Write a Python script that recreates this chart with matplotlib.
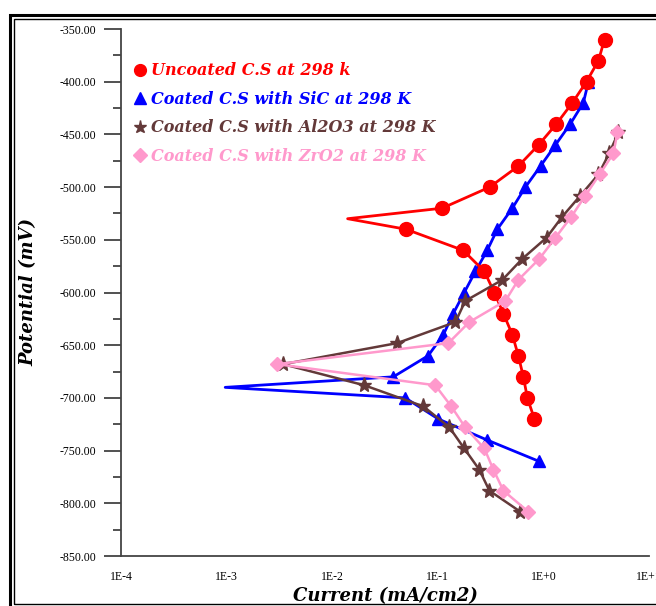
import numpy as np
import matplotlib.pyplot as plt
from matplotlib.lines import Line2D
from matplotlib.patches import Rectangle
from matplotlib.ticker import FixedLocator, MultipleLocator

# ---- data ----
# uncoated carbon steel, spike point at -530 has no marker
v_unc = [-360, -380, -400, -420, -440, -460, -480, -500, -520, -530, -540,
         -560, -580, -600, -620, -640, -660, -680, -700, -720]
i_unc = [3.79, 3.32, 2.56, 1.88, 1.33, 0.90, 0.58, 0.31, 0.110, 0.014, 0.050,
         0.174, 0.276, 0.343, 0.418, 0.508, 0.579, 0.646, 0.705, 0.822]

# SiC coating, spike at -690 has no marker
v_sic = [-400, -420, -440, -460, -480, -500, -520, -540, -560, -580, -600,
         -620, -640, -660, -680, -690, -700, -720, -740, -760]
i_sic = [2.67, 2.39, 1.80, 1.30, 0.94, 0.675, 0.508, 0.366, 0.294, 0.227, 0.178,
         0.140, 0.113, 0.081, 0.0379, 0.00097, 0.0492, 0.101, 0.294, 0.90]

# Al2O3 coating
v_al = [-448, -468, -488, -508, -528, -548, -568, -588, -608, -628, -648,
        -668, -688, -708, -728, -748, -768, -788, -808]
i_al = [5.14, 4.2, 3.32, 2.24, 1.51, 1.07, 0.632, 0.409, 0.182, 0.147, 0.0413,
        0.00343, 0.0201, 0.073, 0.129, 0.178, 0.247, 0.308, 0.605]

# ZrO2 coating
v_zr = [-448, -468, -488, -508, -528, -548, -568, -588, -608, -628, -648,
        -668, -688, -708, -728, -748, -768, -788, -808]
i_zr = [5.02, 4.61, 3.40, 2.50, 1.84, 1.30, 0.916, 0.579, 0.436, 0.199, 0.126,
        0.00301, 0.0946, 0.134, 0.182, 0.276, 0.336, 0.418, 0.721]

labels = ["Uncoated C.S at 298 k", "Coated C.S with SiC at 298 K",
          "Coated C.S with Al2O3 at 298 K", "Coated C.S with ZrO2 at 298 K"]
colors = ["#FF0000", "#0000FF", "#633939", "#FF99CC"]

xtick_vals = [1e-4, 1e-3, 1e-2, 1e-1, 1e0, 1e1]
xtick_labels = ["1E-4", "1E-3", "1E-2", "1E-1", "1E+0", "1E+1"]

fig = plt.figure(figsize=(6.56, 6.06), dpi=100)
ax = fig.add_axes([121/656, 1-556/606, (649-121)/656, (556-29)/606])

# double frame round the figure
fig.patches.append(Rectangle((10/656, 1-612/606), 660/656, 597/606,
                             transform=fig.transFigure, fill=False, lw=2.2, ec="black"))
fig.patches.append(Rectangle((14/656, 1-604/606), 660/656, 585/606,
                             transform=fig.transFigure, fill=False, lw=1.0, ec="black"))

mk_unc = [k for k in range(len(v_unc)) if k != 9]
mk_sic = [k for k in range(len(v_sic)) if k != 15]

ax.plot(i_sic, v_sic, color=colors[1], lw=2.0, marker="^", ms=9,
        markevery=mk_sic, zorder=2)
ax.plot(i_unc, v_unc, color=colors[0], lw=2.0, marker="o", ms=10,
        markevery=mk_unc, zorder=3)
ax.plot(i_al, v_al, color=colors[2], lw=1.8, marker="*", ms=11, zorder=4)
ax.plot(i_zr, v_zr, color=colors[3], lw=1.8, marker="D", ms=7, zorder=5)

ax.set_xscale("log")
ax.set_xlim(1e-4, 1e1)
ax.set_ylim(-850, -350)

ax.set_xticks(xtick_vals, xtick_labels)
ax.xaxis.set_minor_locator(FixedLocator([]))
ax.tick_params(axis="x", length=0, pad=11)

ax.yaxis.set_major_locator(MultipleLocator(50))
ax.yaxis.set_minor_locator(MultipleLocator(25))
ax.yaxis.set_major_formatter(lambda v, p: f"{v:.2f}")
ax.tick_params(axis="y", which="major", length=12, width=1.2, direction="out",
               pad=6, color="#333333")
ax.tick_params(axis="y", which="minor", length=6, width=1.2, direction="out",
               color="#333333")
for t in ax.get_xticklabels() + ax.get_yticklabels():
    t.set_fontfamily("Liberation Serif")
    t.set_fontsize(8.5)

for s in ["top", "right"]:
    ax.spines[s].set_visible(False)
for s in ["left", "bottom"]:
    ax.spines[s].set_color("#444444")
    ax.spines[s].set_linewidth(1.3)

lab_font = dict(family="DejaVu Serif", weight="bold", style="italic", size=13)
ax.set_xlabel("Current (mA/cm2)", labelpad=3, **lab_font)
ax.set_ylabel("Potential (mV)", labelpad=16, **lab_font)

handles = [Line2D([], [], ls="none", marker="o", ms=8.5, color=colors[0]),
           Line2D([], [], ls="none", marker="^", ms=8, color=colors[1]),
           Line2D([], [], ls="none", marker="*", ms=9.5, color=colors[2]),
           Line2D([], [], ls="none", marker="D", ms=7, color=colors[3])]
leg = ax.legend(handles, labels, loc="upper left", bbox_to_anchor=(0.005, 0.958),
                frameon=False, handlelength=0.6, handletextpad=0.4,
                labelspacing=0.72, borderaxespad=0.3,
                prop=dict(family="DejaVu Serif", weight="bold", style="italic", size=11.5))
for txt, c in zip(leg.get_texts(), colors):
    txt.set_color(c)

fig.savefig("out.png", dpi=100)
